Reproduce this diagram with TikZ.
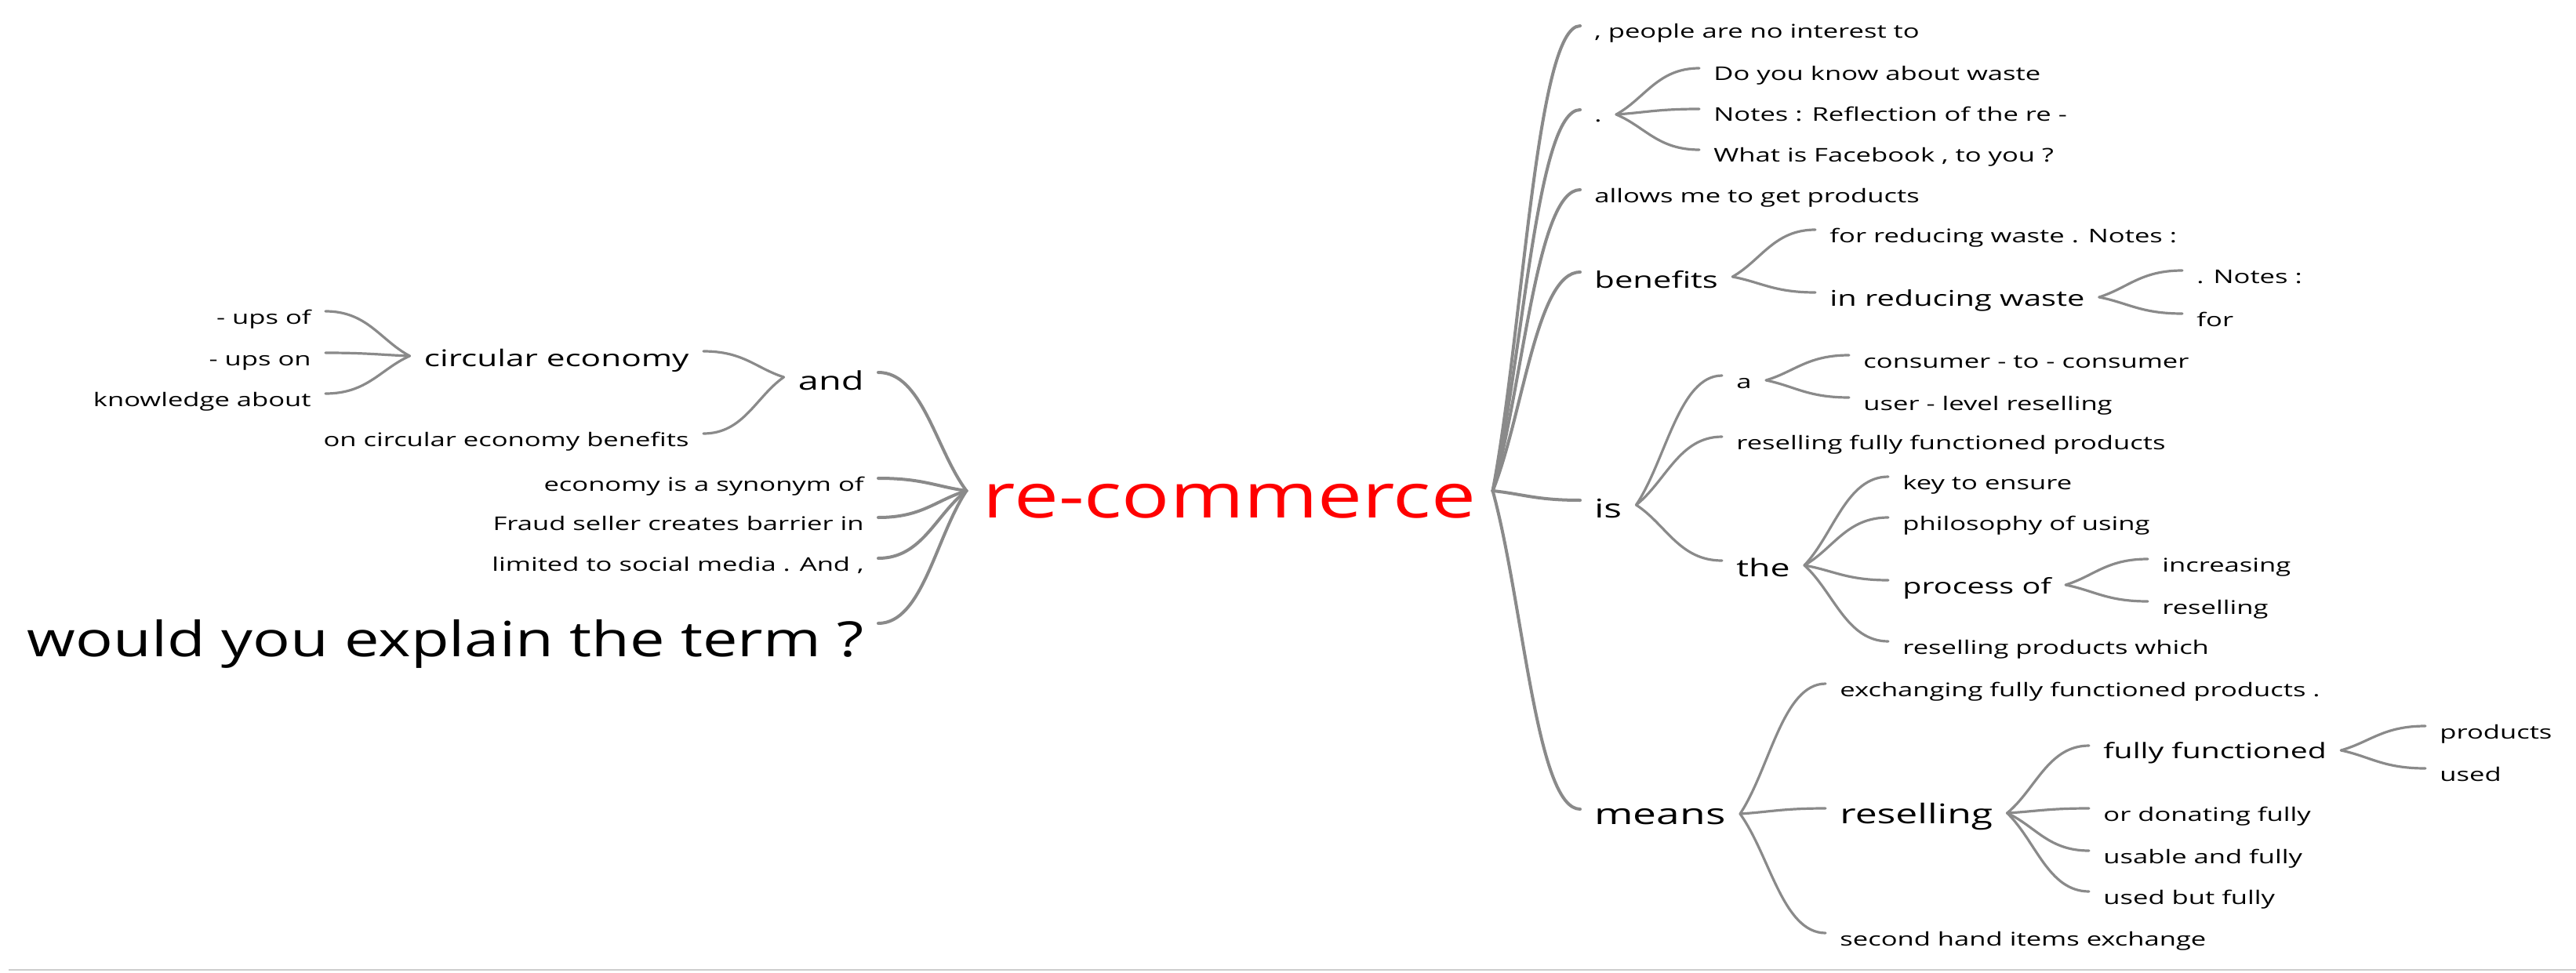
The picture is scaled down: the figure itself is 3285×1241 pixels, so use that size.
\documentclass[tikz,border=0pt]{standalone}
\usepackage{fontspec}
\usetikzlibrary{calc}
\newfontfamily\fa[FakeStretch=1.44]{Open Sans}
\newfontfamily\fb[FakeStretch=1.28]{Open Sans}
\definecolor{lnkc}{RGB}{138,138,138}
\definecolor{rulec}{RGB}{205,205,205}
\tikzset{
  w/.style={inner xsep=9pt, inner ysep=0pt, text depth=0pt, text=black},
  sm/.style={w, font=\fa\fontsize{12}{14}\selectfont, text height=16pt},
  md/.style 2 args={w, font=\fa\fontsize{#1}{#1}\selectfont, text height=#2pt},
  big/.style={w, font=\fb\fontsize{31}{33}\selectfont, text height=42pt},
  rootnode/.style={inner xsep=10.5pt, inner ysep=0pt, text depth=0pt, text height=34pt,
    font=\fb\fontsize{39.6}{42}\selectfont, text=red},
  cn/.style={draw=lnkc, line width=1.6pt, line cap=round},
  cnroot/.style={line width=2pt}
}
\newcommand\lnk[3][]{\draw[cn,#1] let \p1=(#2), \p2=(#3) in
  (\p1) .. controls ({\x1+0.35*(\x2-\x1)},{\y1+0.35*(\y2-\y1)}) and ({0.5*\x1+0.5*\x2},\y2) .. (\p2);}
\newcommand\lkr[2]{\lnk{[yshift=-3pt]#1.east}{#2.west}}
\newcommand\lkl[2]{\lnk{[yshift=-3pt]#1.west}{#2.east}}
\begin{document}
\begin{tikzpicture}[x=0.5pt,y=-0.5pt]
\useasboundingbox (0,0) rectangle (3285,1241);
% root
\node[rootnode] (R) at (1568,626) {re-commerce};
% right side
\node[sm,anchor=west] (p1) at (2015,33) {, people are no interest to};
\node[sm,anchor=west] (dot) at (2015,140) {.};
\node[sm,anchor=west] (q1) at (2167,87) {Do you know about waste};
\node[sm,anchor=west] (q2) at (2167,139) {Notes : Reflection of the re -};
\node[sm,anchor=west] (q3) at (2167,191) {What is Facebook , to you ?};
\node[sm,anchor=west] (allows) at (2015,242) {allows me to get products};
\node[md={14.5}{20},anchor=west] (ben) at (2015,347) {benefits};
\node[sm,anchor=west] (ben1) at (2315,293) {for reducing waste . Notes :};
\node[md={13.8}{17},anchor=west] (ben2) at (2315,373) {in reducing waste};
\node[sm,anchor=west] (ben21) at (2783,345) {. Notes :};
\node[sm,anchor=west] (ben22) at (2783,400) {for};
\node[md={16.5}{22},anchor=west] (is) at (2015,638) {is};
\node[sm,anchor=west] (isa) at (2196,479) {a};
\node[sm,anchor=west] (isa1) at (2358,453) {consumer - to - consumer};
\node[sm,anchor=west] (isa2) at (2358,507) {user - level reselling};
\node[sm,anchor=west] (isr) at (2196,557) {reselling fully functioned products};
\node[md={15.5}{20},anchor=west] (the) at (2196,715) {the};
\node[sm,anchor=west] (the1) at (2408,608) {key to ensure};
\node[sm,anchor=west] (the2) at (2408,660) {philosophy of using};
\node[md={13.7}{17},anchor=west] (the3) at (2408,740) {process of};
\node[sm,anchor=west] (the31) at (2739,713) {increasing};
\node[sm,anchor=west] (the32) at (2739,767) {reselling};
\node[sm,anchor=west] (the4) at (2408,818) {reselling products which};
\node[md={18.5}{19},anchor=west] (means) at (2015,1032) {means};
\node[sm,anchor=west] (m1) at (2328,872) {exchanging fully functioned products .};
\node[md={17.3}{19},anchor=west] (m2) at (2328,1031) {reselling};
\node[sm,anchor=west] (m3) at (2328,1190) {second hand items exchange};
\node[md={13.6}{16},anchor=west] (m21) at (2664,951) {fully functioned};
\node[sm,anchor=west] (m211) at (3093,926) {products};
\node[sm,anchor=west] (m212) at (3093,980) {used};
\node[sm,anchor=west] (m22) at (2664,1031) {or donating fully};
\node[sm,anchor=west] (m23) at (2664,1085) {usable and fully};
\node[sm,anchor=west] (m24) at (2664,1137) {used but fully};
% left side
\node[md={16.3}{22},anchor=east] (and) at (1120,475) {and};
\node[md={14.7}{19},anchor=east] (ce) at (897,448) {circular economy};
\node[sm,anchor=east] (ceb) at (897,553) {on circular economy benefits};
\node[sm,anchor=east] (ce1) at (415,397) {- ups of};
\node[sm,anchor=east] (ce2) at (415,450) {- ups on};
\node[sm,anchor=east] (ce3) at (415,502) {knowledge about};
\node[sm,anchor=east] (l2) at (1120,610) {economy is a synonym of};
\node[sm,anchor=east] (l3) at (1120,660) {Fraud seller creates barrier in};
\node[sm,anchor=east] (l4) at (1120,712) {limited to social media . And ,};
\node[big,anchor=east] (l5) at (1120,795) {would you explain the term ?};
% root connectors
\foreach \c in {p1,dot,allows,ben,is,means}{\lnk[cnroot]{R.east}{\c.west}}
\foreach \c in {and,l2,l3,l4,l5}{\lnk[cnroot]{R.west}{\c.east}}
% right subtrees
\foreach \c in {q1,q2,q3}{\lkr{dot}{\c}}
\foreach \c in {ben1,ben2}{\lkr{ben}{\c}}
\foreach \c in {ben21,ben22}{\lkr{ben2}{\c}}
\foreach \c in {isa,isr,the}{\lkr{is}{\c}}
\foreach \c in {isa1,isa2}{\lkr{isa}{\c}}
\foreach \c in {the1,the2,the3,the4}{\lkr{the}{\c}}
\foreach \c in {the31,the32}{\lkr{the3}{\c}}
\foreach \c in {m1,m2,m3}{\lkr{means}{\c}}
\foreach \c in {m21,m22,m23,m24}{\lkr{m2}{\c}}
\foreach \c in {m211,m212}{\lkr{m21}{\c}}
% left subtrees
\foreach \c in {ce,ceb}{\lkl{and}{\c}}
\foreach \c in {ce1,ce2,ce3}{\lkl{ce}{\c}}
% bottom rule
\draw[rulec, line width=1.4pt] (11,1237) -- (3285,1237);
\end{tikzpicture}
\end{document}
